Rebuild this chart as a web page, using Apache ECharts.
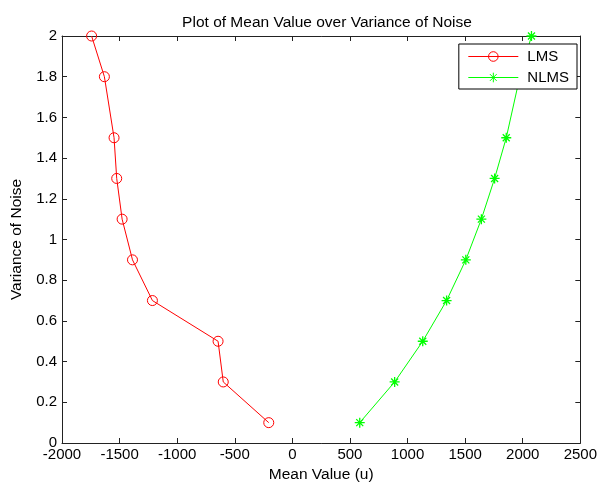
<!DOCTYPE html>
<html>
<head>
<meta charset="utf-8">
<script src="https://cdn.jsdelivr.net/npm/echarts@6/dist/echarts.min.js"></script>
<style>
  html, body { margin: 0; padding: 0; background: #fff; }
  #chart { width: 600px; height: 488px; }
</style>
</head>
<body>
<div id="chart"></div>
<script>
const noiseVariance = [0.1, 0.3, 0.5, 0.7, 0.9, 1.1, 1.3, 1.5, 1.8, 2.0]
const lmsMean = [-205, -600, -645, -1215, -1388, -1478, -1525, -1548, -1632, -1743]
const nlmsMean = [585, 888, 1132, 1339, 1506, 1641, 1756, 1857, 1975, 2076]

const asterisk = 'path://M5 0L5 10M0 5L10 5M1.5 1.5L8.5 8.5M8.5 1.5L1.5 8.5'
const font = 'Liberation Sans, Arial, sans-serif'

const chart = echarts.init(document.getElementById('chart'))

const axisCommon = {
  axisLine: { show: true, onZero: false, lineStyle: { color: '#222', width: 1 } },
  axisTick: { show: true, inside: true, length: 5, lineStyle: { color: '#222' } },
  splitLine: { show: false },
  axisLabel: { color: '#000', fontSize: 15, fontFamily: font, formatter: (v) => String(v) }
}

const option = {
  backgroundColor: '#fff',
  animation: false,
  title: {
    text: 'Plot of Mean Value over Variance of Noise',
    left: 322,
    textAlign: 'center',
    top: 10,
    textStyle: { color: '#000', fontSize: 15.5, fontWeight: 'normal', fontFamily: font }
  },
  legend: {
    orient: 'vertical',
    right: 23,
    top: 44,
    padding: [5, 8, 4, 9],
    itemGap: 6,
    itemWidth: 50,
    itemHeight: 12,
    backgroundColor: '#fff',
    borderColor: '#000',
    borderWidth: 1,
    borderRadius: 0,
    lineStyle: { width: 1 },
    itemStyle: { borderWidth: 1 },
    textStyle: { color: '#000', fontSize: 15, fontFamily: font, padding: [0, 0, 0, 4] },
    data: ['LMS', 'NLMS']
  },
  grid: { left: 62, right: 16, top: 36, bottom: 41, containLabel: false },
  xAxis: [
    {
      ...axisCommon,
      type: 'value',
      min: -2000,
      max: 2500,
      interval: 500,
      name: 'Mean Value (u)',
      nameLocation: 'middle',
      nameGap: 24,
      nameTextStyle: { color: '#000', fontSize: 15.5, fontFamily: font },
      axisLabel: { ...axisCommon.axisLabel, margin: 4 }
    },
    {
      ...axisCommon,
      type: 'value',
      position: 'top',
      min: -2000,
      max: 2500,
      interval: 500,
      axisLabel: { show: false }
    }
  ],
  yAxis: [
    {
      ...axisCommon,
      type: 'value',
      min: 0,
      max: 2,
      interval: 0.2,
      name: 'Variance of Noise',
      nameLocation: 'middle',
      nameGap: 37,
      nameTextStyle: { color: '#000', fontSize: 15.5, fontFamily: font },
      axisLabel: { ...axisCommon.axisLabel, margin: 5 }
    },
    {
      ...axisCommon,
      type: 'value',
      position: 'right',
      min: 0,
      max: 2,
      interval: 0.2,
      axisLabel: { show: false }
    }
  ],
  series: [
    {
      name: 'LMS',
      type: 'line',
      data: lmsMean.map((x, i) => [x, noiseVariance[i]]),
      symbol: 'circle',
      symbolSize: 10,
      showAllSymbol: true,
      lineStyle: { color: '#ff0000', width: 1 },
      itemStyle: { color: 'rgba(0,0,0,0)', borderColor: '#ff0000', borderWidth: 1 },
      z: 3
    },
    {
      name: 'NLMS',
      type: 'line',
      data: nlmsMean.map((x, i) => [x, noiseVariance[i]]),
      symbol: asterisk,
      symbolSize: 10,
      showAllSymbol: true,
      lineStyle: { color: '#00ff00', width: 1 },
      itemStyle: { color: '#00ff00', borderColor: '#00ff00', borderWidth: 1.3 },
      z: 1
    }
  ]
}

chart.setOption(option)
</script>
</body>
</html>
